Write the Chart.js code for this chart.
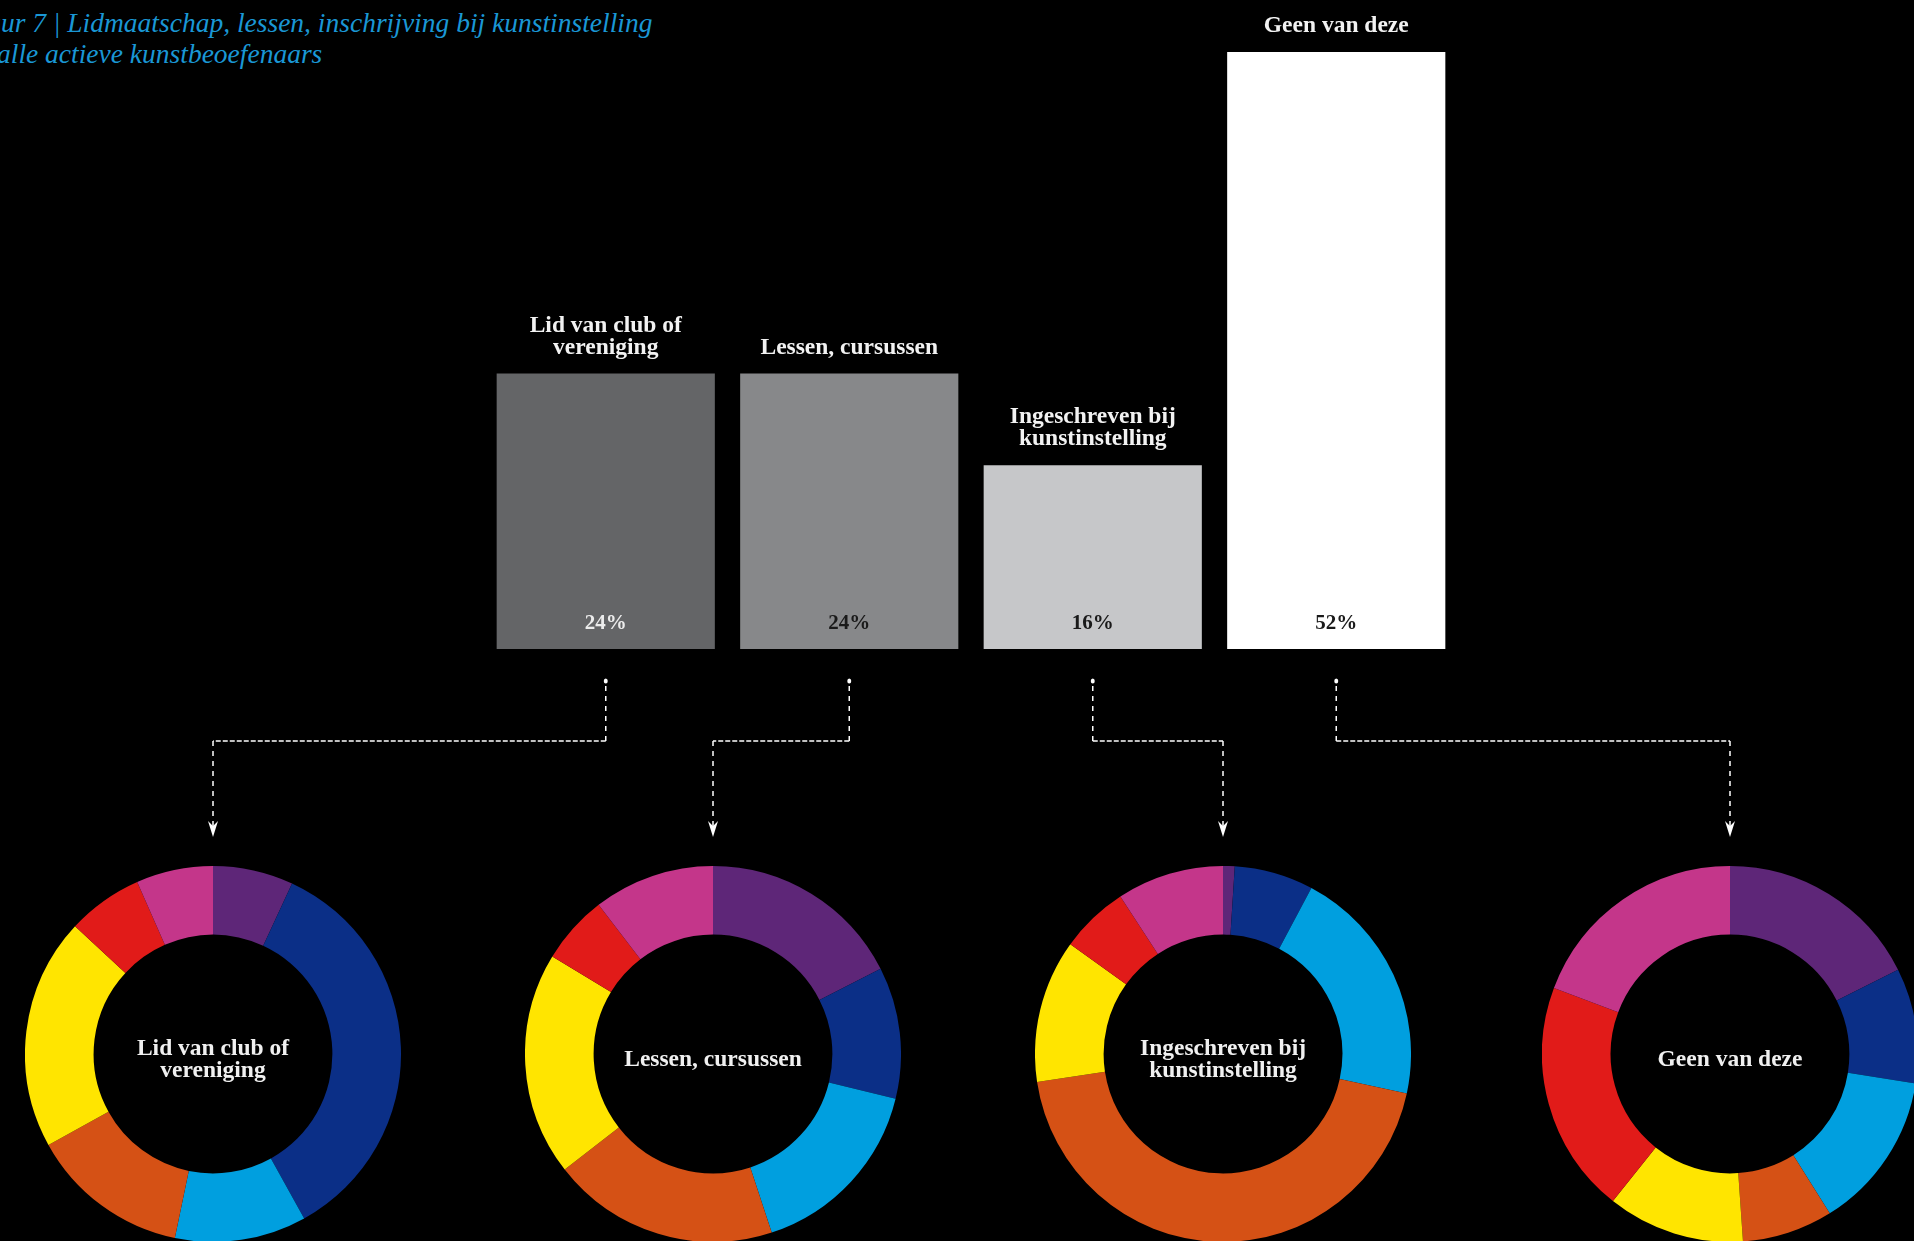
<!DOCTYPE html>
<html lang="nl">
<head>
<meta charset="utf-8">
<title>Figuur 7 | Lidmaatschap, lessen, inschrijving bij kunstinstelling</title>
<script src="https://cdn.jsdelivr.net/npm/chart.js@4.4.1/dist/chart.umd.min.js"></script>
<style>
  html, body { margin: 0; padding: 0; background: #000; width: 1914px; height: 1241px; overflow: hidden; position: relative; }
  .title { position: absolute; margin: 0; color: #1a97d5; font-family: "Liberation Serif", serif; font-style: italic; font-size: 27.5px; line-height: 1; white-space: nowrap; }
  #title1 { left: -51px; top: 9px; }
  #title2 { left: -3px; top: 40px; }
  #barChart { position: absolute; left: 484px; top: 0; }
  .donut { position: absolute; }
  #links { position: absolute; left: 0; top: 0; pointer-events: none; }
</style>
</head>
<body>
<div class="title" id="title1">Figuur 7 | Lidmaatschap, lessen, inschrijving bij kunstinstelling</div>
<div class="title" id="title2">alle actieve kunstbeoefenaars</div>

<canvas id="barChart" width="974" height="649"></canvas>
<canvas class="donut" id="donut0" width="376" height="376"></canvas>
<canvas class="donut" id="donut1" width="376" height="376"></canvas>
<canvas class="donut" id="donut2" width="376" height="376"></canvas>
<canvas class="donut" id="donut3" width="376" height="376"></canvas>
<canvas id="links" width="1914" height="1241"></canvas>

<script>
// bar data
const barLabels = [['Lid van club of', 'vereniging'], ['Lessen, cursussen'], ['Ingeschreven bij', 'kunstinstelling'], ['Geen van deze']];
const barValues = [24, 24, 16, 52];

// donut data (share per segment, clockwise from the top)
const segmentLabels = ['Paars', 'Donkerblauw', 'Lichtblauw', 'Oranje', 'Geel', 'Rood', 'Roze'];
const clubValues = [6.9, 35.0, 11.3, 13.7, 19.9, 6.5, 6.6];
const lessenValues = [17.5, 11.3, 16.1, 19.5, 19.2, 5.9, 10.4];
const ingeschrevenValues = [1.0, 6.8, 20.6, 44.3, 12.3, 5.9, 9.2];
const geenValues = [17.6, 9.9, 13.6, 7.8, 11.8, 20.0, 19.3];

const barColors = ['#646567', '#87888a', '#c6c7c9', '#ffffff'];
const valueColors = ['#ececec', '#1a1a1a', '#1a1a1a', '#1a1a1a'];
const segmentColors = ['#5e2678', '#0b2f87', '#009fdf', '#d55115', '#ffe500', '#e11b19', '#c4368a'];

const labelFont = 'bold 23.5px "Liberation Serif", serif';
const valueFont = 'bold 21px "Liberation Serif", serif';

const barText = {
    id: 'barText',
    afterDatasetsDraw(chart) {
        const ctx = chart.ctx;
        const meta = chart.getDatasetMeta(0);
        ctx.save();
        ctx.textAlign = 'center';
        ctx.textBaseline = 'middle';
        meta.data.forEach(function (bar, i) {
            ctx.font = valueFont;
            ctx.fillStyle = valueColors[i];
            ctx.fillText(barValues[i] + '%', bar.x, bar.base - 25);
            ctx.font = labelFont;
            ctx.fillStyle = '#f2f2f2';
            const lines = barLabels[i];
            lines.forEach(function (line, j) {
                ctx.fillText(line, bar.x, bar.y - 26 - (lines.length - 1 - j) * 22);
            });
        });
        ctx.restore();
    }
};

const barChart = new Chart(document.getElementById('barChart'), {
    type: 'bar',
    data: {
        labels: barLabels.map(l => l.join(' ')),
        datasets: [{
            data: barValues,
            backgroundColor: barColors,
            borderWidth: 0,
            barPercentage: 0.896,
            categoryPercentage: 1
        }]
    },
    options: {
        responsive: false,
        animation: false,
        layout: { padding: { top: 6 } },
        plugins: { legend: { display: false }, tooltip: { enabled: false } },
        scales: {
            x: { display: false },
            y: { display: false, min: 0, max: 56 }
        }
    },
    plugins: [barText]
});

// donuts
const donutSets = [
    { values: clubValues, title: ['Lid van club of', 'vereniging'], cx: 213 },
    { values: lessenValues, title: ['Lessen, cursussen'], cx: 713 },
    { values: ingeschrevenValues, title: ['Ingeschreven bij', 'kunstinstelling'], cx: 1223 },
    { values: geenValues, title: ['Geen van deze'], cx: 1730 }
];
const donutCy = 1054;

const centerText = {
    id: 'centerText',
    afterDraw(chart) {
        const ctx = chart.ctx;
        const a = chart.chartArea;
        const x = (a.left + a.right) / 2;
        const y = (a.top + a.bottom) / 2 + 6;
        const lines = chart.options.plugins.centerText.lines;
        ctx.save();
        ctx.font = labelFont;
        ctx.fillStyle = '#f0f0f0';
        ctx.textAlign = 'center';
        ctx.textBaseline = 'middle';
        lines.forEach(function (line, j) {
            ctx.fillText(line, x, y + (j - (lines.length - 1) / 2) * 22);
        });
        ctx.restore();
    }
};

const donutCharts = donutSets.map(function (set, i) {
    const canvas = document.getElementById('donut' + i);
    canvas.style.left = (set.cx - 188) + 'px';
    canvas.style.top = (donutCy - 188) + 'px';
    return new Chart(canvas, {
        type: 'doughnut',
        data: {
            labels: segmentLabels,
            datasets: [{
                data: set.values,
                backgroundColor: segmentColors,
                borderWidth: 0
            }]
        },
        options: {
            responsive: false,
            animation: false,
            cutout: '63.5%',
            plugins: {
                legend: { display: false },
                tooltip: { enabled: false },
                centerText: { lines: set.title }
            }
        },
        plugins: [centerText]
    });
});

// dashed connectors from each bar to its donut
const links = document.getElementById('links').getContext('2d');
const barCanvas = document.getElementById('barChart');
const barMeta = barChart.getDatasetMeta(0);
links.strokeStyle = '#ffffff';
links.fillStyle = '#ffffff';
links.lineWidth = 1.5;
barMeta.data.forEach(function (bar, i) {
    const dc = donutCharts[i];
    const area = dc.chartArea;
    const arc = dc.getDatasetMeta(0).data[0];
    const x1 = barCanvas.offsetLeft + bar.x;
    const y0 = barCanvas.offsetTop + bar.base + 32;
    const yMid = y0 + 60;
    const x2 = dc.canvas.offsetLeft + (area.left + area.right) / 2;
    const yTip = dc.canvas.offsetTop + (area.top + area.bottom) / 2 - arc.outerRadius - 29;

    links.setLineDash([5, 5]);
    links.beginPath();
    links.moveTo(x1, y0 + 5);
    links.lineTo(x1, yMid);
    links.stroke();
    links.beginPath();
    links.moveTo(x2, yMid);
    links.lineTo(x2, yTip - 10);
    links.stroke();
    links.setLineDash([5, 2]);
    links.beginPath();
    links.moveTo(x1, yMid);
    links.lineTo(x2, yMid);
    links.stroke();

    links.setLineDash([]);
    links.beginPath();
    links.ellipse(x1, y0, 2, 2.5, 0, 0, 2 * Math.PI);
    links.fill();
    links.beginPath();
    links.moveTo(x2, yTip);
    links.lineTo(x2 - 5, yTip - 16);
    links.lineTo(x2, yTip - 11);
    links.lineTo(x2 + 5, yTip - 16);
    links.closePath();
    links.fill();
});
</script>
</body>
</html>
